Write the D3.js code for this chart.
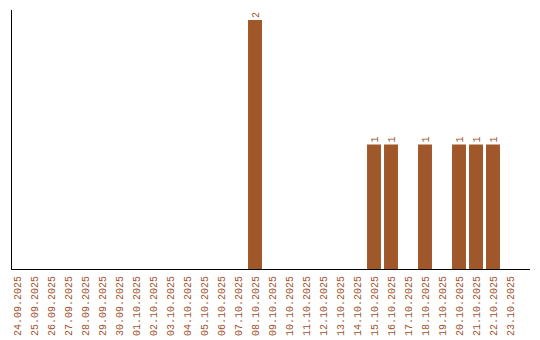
<!DOCTYPE html>
<html>
<head>
<meta charset="utf-8">
<script src="https://cdn.jsdelivr.net/npm/d3@7"></script>
<style>
  body { margin: 0; background: #fff; }
  svg text { font-family: "Liberation Mono", "Courier New", monospace; font-size: 10px; fill: #a0522d; }
</style>
</head>
<body>
<svg id="chart" width="540" height="340"></svg>
<script>
// dates shown on the x axis
const dates = ["24.09.2025", "25.09.2025", "26.09.2025", "27.09.2025", "28.09.2025",
  "29.09.2025", "30.09.2025", "01.10.2025", "02.10.2025", "03.10.2025",
  "04.10.2025", "05.10.2025", "06.10.2025", "07.10.2025", "08.10.2025",
  "09.10.2025", "10.10.2025", "11.10.2025", "12.10.2025", "13.10.2025",
  "14.10.2025", "15.10.2025", "16.10.2025", "17.10.2025", "18.10.2025",
  "19.10.2025", "20.10.2025", "21.10.2025", "22.10.2025", "23.10.2025"];
const counts = [0, 0, 0, 0, 0, 0, 0, 0, 0, 0, 0, 0, 0, 0, 2,
  0, 0, 0, 0, 0, 0, 1, 1, 0, 1, 0, 1, 1, 1, 0];

const svg = d3.select("#chart");
const barColor = "#a0572a";

const x = d3.scaleBand().domain(dates).range([8.5, 518.5]).paddingInner(0.18).paddingOuter(0.09);
const y = d3.scaleLinear().domain([0, 2]).range([269, 20]);

const rows = dates.map((d, i) => ({ date: d, value: counts[i] })).filter(d => d.value > 0);

// bars
svg.selectAll("rect.bar")
  .data(rows)
  .enter().append("rect")
  .attr("class", "bar")
  .attr("x", d => x(d.date))
  .attr("y", d => y(d.value))
  .attr("width", x.bandwidth())
  .attr("height", d => y(0) - y(d.value))
  .attr("fill", barColor);

// value labels, rotated like the ticks
svg.selectAll("text.val")
  .data(rows)
  .enter().append("text")
  .attr("class", "val")
  .attr("transform", d => `translate(${x(d.date) + x.bandwidth() / 2 + 3.5},${y(d.value) - 2}) rotate(-90)`)
  .attr("text-anchor", "start")
  .text(d => d.value);

// axes lines
svg.append("line").attr("x1", 11.5).attr("x2", 11.5).attr("y1", 10).attr("y2", 270)
  .attr("stroke", "#000").attr("stroke-width", 1);
svg.append("line").attr("x1", 11).attr("x2", 530).attr("y1", 269.5).attr("y2", 269.5)
  .attr("stroke", "#000").attr("stroke-width", 1);

// tick labels
svg.selectAll("text.tick")
  .data(dates)
  .enter().append("text")
  .attr("class", "tick")
  .attr("transform", d => `translate(${x(d) + x.bandwidth() / 2 + 3.5},276) rotate(-90)`)
  .attr("text-anchor", "end")
  .text(d => d);
</script>
</body>
</html>
